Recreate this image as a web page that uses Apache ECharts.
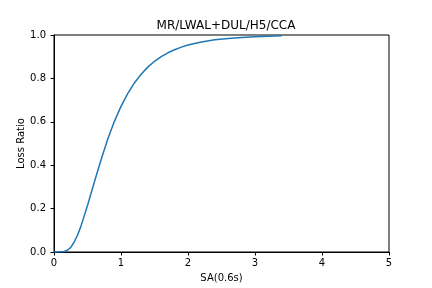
<!DOCTYPE html>
<html>
<head>
<meta charset="utf-8">
<script src="https://cdn.jsdelivr.net/npm/echarts@6/dist/echarts.min.js"></script>
<style>html,body{margin:0;padding:0;background:#fff}#c{width:432px;height:288px}</style>
</head>
<body>
<div id="c"></div>
<script>
const chartTitle = "MR/LWAL+DUL/H5/CCA";
const xName = "SA(0.6s)";
const yName = "Loss Ratio";
const saValues = [0, 0.05, 0.1, 0.15, 0.2, 0.25, 0.3, 0.35, 0.4, 0.5, 0.6, 0.7, 0.8, 0.9, 1.0, 1.1, 1.2, 1.3, 1.4, 1.5, 1.6, 1.7, 1.8, 1.9, 2.0, 2.2, 2.4, 2.6, 2.8, 3.0, 3.2, 3.4];
const lossRatio = [0, 0, 0.001, 0.002, 0.008, 0.021, 0.045, 0.077, 0.117, 0.214, 0.32, 0.423, 0.518, 0.601, 0.671, 0.73, 0.779, 0.819, 0.852, 0.879, 0.9, 0.918, 0.932, 0.944, 0.954, 0.968, 0.978, 0.984, 0.989, 0.992, 0.994, 0.996];
const xTicks = [0, 1, 2, 3, 4, 5];
const yTicks = [0, 0.2, 0.4, 0.6, 0.8, 1.0];

const font = "DejaVu Sans";
const chart = echarts.init(document.getElementById('c'), null, {renderer: 'canvas'});
chart.setOption({
  animation: false,
  backgroundColor: '#fff',
  title: {
    text: chartTitle, left: 221, top: 15, textAlign: 'center',
    textStyle: {fontFamily: font, fontSize: 12, fontWeight: 'normal', color: '#000'}
  },
  grid: {left: 54, right: 43, top: 35, bottom: 36, show: true, borderColor: '#000', borderWidth: 1, backgroundColor: 'transparent'},
  xAxis: {
    type: 'value', min: xTicks[0], max: xTicks[xTicks.length - 1], interval: 1,
    name: xName, nameLocation: 'middle', nameGap: 21, nameMoveOverlap: false,
    nameTextStyle: {fontFamily: font, fontSize: 10, color: '#000'},
    axisLine: {show: true, lineStyle: {color: '#000', width: 1}},
    axisTick: {show: true, inside: false, length: 3.5, lineStyle: {color: '#000'}},
    axisLabel: {fontFamily: font, fontSize: 10, color: '#000', margin: 6},
    splitLine: {show: false}
  },
  yAxis: {
    type: 'value', min: yTicks[0], max: yTicks[yTicks.length - 1], interval: 0.2,
    name: yName, nameLocation: 'middle', nameGap: 28, nameRotate: 90, nameMoveOverlap: false,
    nameTextStyle: {fontFamily: font, fontSize: 10, color: '#000'},
    axisLine: {show: true, lineStyle: {color: '#000', width: 1}},
    axisTick: {show: true, inside: false, length: 3.5, lineStyle: {color: '#000'}},
    axisLabel: {fontFamily: font, fontSize: 10, color: '#000', margin: 8, formatter: v => v.toFixed(1)},
    splitLine: {show: false}
  },
  series: [{
    type: 'line',
    data: saValues.map((x, i) => [x, lossRatio[i]]),
    showSymbol: false, symbol: 'none', smooth: false,
    lineStyle: {color: '#1f77b4', width: 1.5},
    clip: true
  }]
});
</script>
</body>
</html>
